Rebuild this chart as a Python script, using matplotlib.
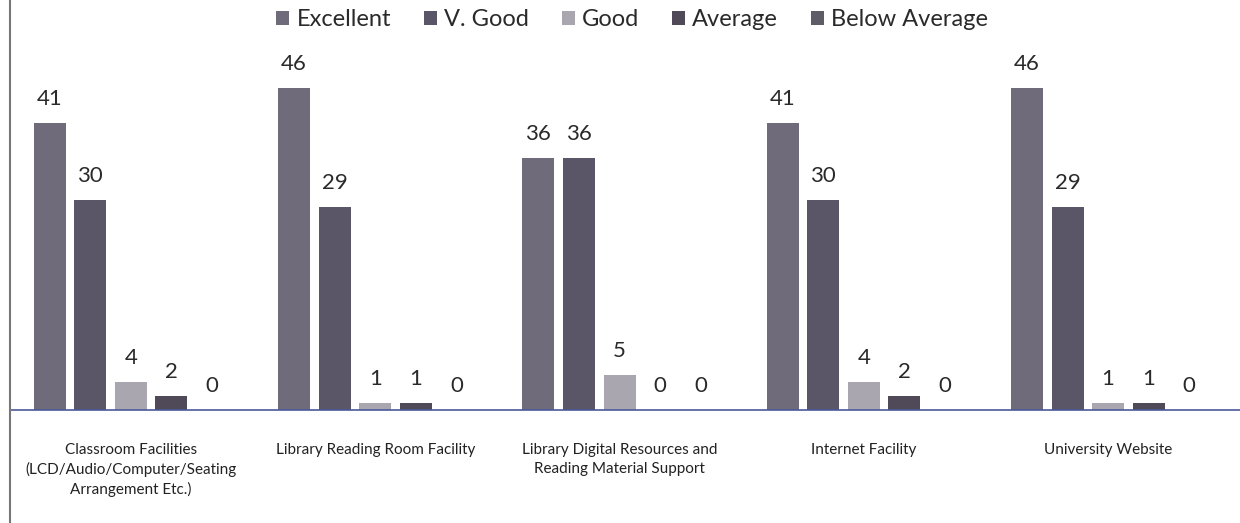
import numpy as np
import matplotlib.pyplot as plt
from matplotlib.lines import Line2D

plt.rcParams['font.family'] = ['Lato', 'DejaVu Sans']

categories = ["Classroom Facilities\n(LCD/Audio/Computer/Seating\nArrangement Etc.)",
              "Library Reading Room Facility",
              "Library Digital Resources and\nReading Material Support",
              "Internet Facility",
              "University Website"]
series = ["Excellent", "V. Good", "Good", "Average", "Below Average"]
excellent = [41, 46, 36, 41, 46]
v_good = [30, 29, 36, 30, 29]
good = [4, 1, 5, 4, 1]
average = [2, 1, 0, 2, 1]
below_average = [0, 0, 0, 0, 0]
values = [excellent, v_good, good, average, below_average]
colors = ["#6f6b7b", "#5b5568", "#aaa6b0", "#4f4958", "#5e5c66"]

fig = plt.figure(figsize=(12.4, 5.23), dpi=100)
ax = fig.add_axes([10 / 1240, 113 / 523, 1230 / 1240, 370 / 523])

x = np.arange(len(categories))
pitch = 0.166
width = 0.131
for i, (name, vals, c) in enumerate(zip(series, values, colors)):
    pos = x + (i - 2) * pitch
    bars = ax.bar(pos, vals, width, color=c, label=name)
    for b, v in zip(bars, vals):
        ax.annotate(str(v), (b.get_x() + b.get_width() / 2, v),
                    xytext=(0, 10), textcoords='offset points',
                    ha='center', va='bottom', fontsize=16, color='#2a2a2a')

ax.set_xlim(-0.495, 4.54)
ax.set_ylim(0, 370 / 7)
ax.set_yticks([])
ax.set_xticks(x)
ax.set_xticklabels(categories, fontsize=11, color='#222222', linespacing=1.4)
ax.tick_params(axis='x', length=0, pad=24)
for s in ['top', 'right', 'left']:
    ax.spines[s].set_visible(False)
ax.spines['bottom'].set_color('#4a5a9a')
ax.spines['bottom'].set_linewidth(1.2)

ax.legend(loc='upper center', bbox_to_anchor=(0.506, 1.14), ncol=5, frameon=False,
          fontsize=17, handlelength=0.55, handleheight=0.55, handletextpad=0.3,
          columnspacing=1.4, labelcolor='#2a2a2a')

fig.add_artist(Line2D([10 / 1240, 10 / 1240], [0, 1], color='#777777', lw=1.5))

fig.savefig("out.png", dpi=100, facecolor='white')
